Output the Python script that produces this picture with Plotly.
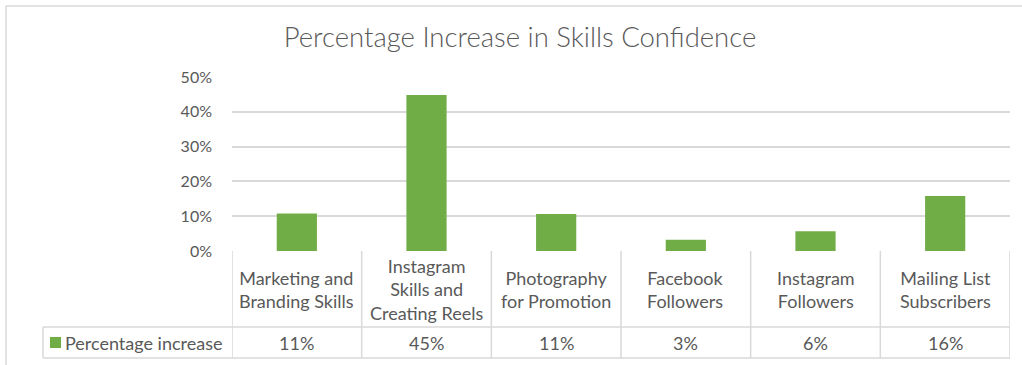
import plotly.graph_objects as go

categories = ["Marketing and<br>Branding Skills", "Instagram<br>Skills and<br>Creating Reels",
              "Photography<br>for Promotion", "Facebook<br>Followers",
              "Instagram<br>Followers", "Mailing List<br>Subscribers"]
values = [0.108, 0.448, 0.106, 0.032, 0.057, 0.158]
value_labels = ["11%", "45%", "11%", "3%", "6%", "16%"]
series_name = "Percentage increase"
title_text = "Percentage Increase in Skills Confidence"
ytick_vals = [0, 0.1, 0.2, 0.3, 0.4, 0.5]

GREEN = "#70AD47"
TEXT = "#595959"
LINE = "#D9D9D9"
FONT = "Lato, Liberation Sans, sans-serif"

W, H = 1022, 365
ML, MR, MT, MB = 232, 12, 77, 114
PW, PH = W - ML - MR, H - MT - MB

def yp(py):
    return (H - MB - py) / PH

def xp(px):
    return (px - ML) / PW

n = len(categories)
idx = list(range(n))

fig = go.Figure()
fig.add_trace(go.Bar(x=idx, y=values, marker=dict(color=GREEN, line=dict(width=0)),
                     width=0.31, name=series_name, hoverinfo="y"))

shapes = []
# outer chart border (top & left)
shapes.append(dict(type="line", xref="paper", yref="paper", x0=xp(6), x1=xp(1022), y0=yp(6), y1=yp(6),
                   line=dict(color=LINE, width=1.5)))
shapes.append(dict(type="line", xref="paper", yref="paper", x0=xp(6), x1=xp(6), y0=yp(6), y1=yp(365),
                   line=dict(color=LINE, width=1.5)))
# data table lines
row_mid = yp(327)
row_bot = yp(358)
for k in range(n + 1):
    shapes.append(dict(type="line", xref="x", yref="paper", x0=k - 0.5, x1=k - 0.5, y0=0, y1=row_bot,
                       line=dict(color=LINE, width=1.5)))
shapes.append(dict(type="line", xref="paper", yref="paper", x0=xp(43), x1=1, y0=row_mid, y1=row_mid,
                   line=dict(color=LINE, width=1.5)))
shapes.append(dict(type="line", xref="paper", yref="paper", x0=xp(43), x1=1, y0=row_bot, y1=row_bot,
                   line=dict(color=LINE, width=1.5)))
shapes.append(dict(type="line", xref="paper", yref="paper", x0=xp(43), x1=xp(43), y0=row_mid, y1=row_bot,
                   line=dict(color=LINE, width=1.5)))
# legend key
shapes.append(dict(type="rect", xref="paper", yref="paper", x0=xp(50), x1=xp(61), y0=yp(348), y1=yp(337),
                   fillcolor=GREEN, line=dict(width=0)))

TSIZE = 18
annotations = []
for k, (c, v) in enumerate(zip(categories, value_labels)):
    annotations.append(dict(x=k, y=yp(289), xref="x", yref="paper", text=c, showarrow=False,
                            font=dict(family=FONT, size=TSIZE, color=TEXT), yanchor="middle", align="center"))
    annotations.append(dict(x=k, y=yp(342.5), xref="x", yref="paper", text=v, showarrow=False,
                            font=dict(family=FONT, size=TSIZE, color=TEXT), yanchor="middle", align="center"))
annotations.append(dict(x=xp(63), y=yp(342.5), xref="paper", yref="paper", text=series_name, showarrow=False,
                        font=dict(family=FONT, size=TSIZE, color=TEXT), xanchor="left", yanchor="middle"))

fig.update_layout(
    width=W, height=H,
    margin=dict(l=ML, r=MR, t=MT, b=MB),
    paper_bgcolor="white", plot_bgcolor="white",
    showlegend=False,
    bargap=0.69,
    title=dict(text=title_text, x=520 / W, xanchor="center", xref="container", y=1 - 37 / H,
               yanchor="middle", yref="container",
               font=dict(family=FONT, size=27.5, color=TEXT, weight=300)),
    xaxis=dict(range=[-0.5, n - 0.5], showticklabels=False, showgrid=False, zeroline=False,
               showline=False, fixedrange=True),
    yaxis=dict(range=[0, 0.5], tickvals=ytick_vals, tickformat=".0%", showgrid=True, gridcolor=LINE,
               gridwidth=1.5, zeroline=False, showline=False, ticks="", ticklabelstandoff=19,
               tickfont=dict(family=FONT, size=16, color=TEXT), fixedrange=True),
    shapes=shapes, annotations=annotations,
)
fig.write_html("out.html")
